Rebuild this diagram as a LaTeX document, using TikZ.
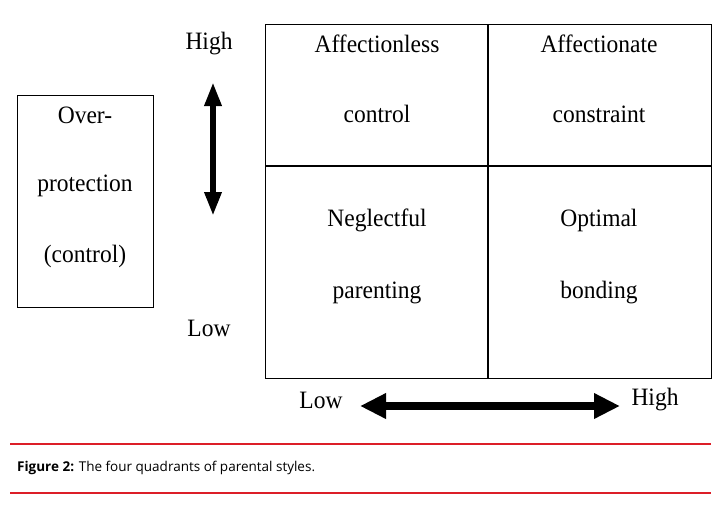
\documentclass[tikz,border=0pt]{standalone}
\usepackage{fontspec}
\setmainfont{Liberation Serif}
\newfontfamily\capfont{Open Sans}
\usetikzlibrary{arrows.meta}
\begin{document}
\begin{tikzpicture}[x=1pt,y=-1pt,
  lbl/.style={font=\fontsize{25}{27}\selectfont,inner sep=0pt,xscale=0.94},
  box/.style={draw,line width=1.2pt},
  bigarrow/.style={line width=8pt,{Triangle[length=26pt,width=24pt]}-{Triangle[length=26pt,width=24pt]}},
  redline/.style={draw={rgb,255:red,220;green,30;blue,40},line width=2pt}]
\useasboundingbox[fill=white] (0,0) rectangle (717,507);
\node[box,minimum width=136pt,minimum height=212pt,anchor=north west] (ob) at (17,95) {};
\node[lbl] (o1) at (85,115) {Over-};
\node[lbl] (o2) at (85,186) {protection};
\node[lbl] (o3) at (85,256) {(control)};
\node[lbl] (vh) at (209,44) {High};
\node[lbl] (vl) at (209,328) {Low};
\coordinate (vt) at (213,82);
\coordinate (vb) at (213,216);
\draw[line width=6pt,{Triangle[length=24pt,width=16pt]}-{Triangle[length=24pt,width=16pt]}] (vt) -- (vb);
\node[box,minimum width=446pt,minimum height=354pt,anchor=north west] (grid) at (265,24) {};
\draw[line width=1.2pt] (488,24) -- (488,378);
\draw[line width=1.2pt] (265,166) -- (711,166);
\node[lbl] (q1a) at (377,44) {Affectionless};
\node[lbl] (q1b) at (377,114) {control};
\node[lbl] (q2a) at (599,44) {Affectionate};
\node[lbl] (q2b) at (599,114) {constraint};
\node[lbl] (q3a) at (377,220) {Neglectful};
\node[lbl] (q3b) at (377,293) {parenting};
\node[lbl] (q4a) at (599,220) {Optimal};
\node[lbl] (q4b) at (599,293) {bonding};
\node[lbl] (hl) at (321,400) {Low};
\node[lbl] (hh) at (655,400) {High};
\coordinate (hla) at (360,406);
\coordinate (hra) at (620,406);
\draw[bigarrow] (hla) -- (hra);
\coordinate (r1a) at (10,444); \coordinate (r1b) at (711,444);
\coordinate (r2a) at (10,493); \coordinate (r2b) at (711,493);
\draw[redline] (r1a) -- (r1b);
\draw[redline] (r2a) -- (r2b);
\node[anchor=west,inner sep=0pt,font=\capfont\fontsize{13.5}{15}\selectfont] (cap) at (17,468) {\textbf{Figure 2:} The four quadrants of parental styles.};
\end{tikzpicture}
\end{document}
